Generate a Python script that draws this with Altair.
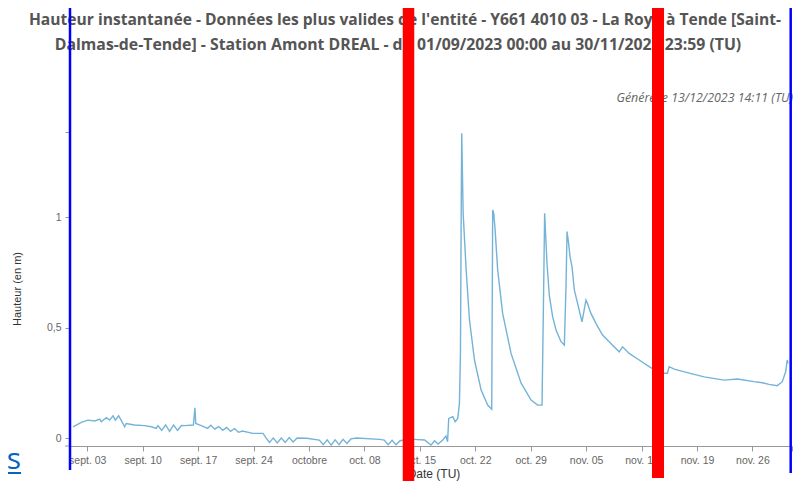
import altair as alt
import pandas as pd

# ---- data ----
days = [0.20, 1.25, 2.09, 2.94, 3.57, 3.77, 4.40, 4.83, 5.25, 5.54, 5.96, 6.38, 6.72, 6.92,
        7.98, 9.24, 10.08, 10.71, 10.92, 11.40, 11.90, 12.40, 12.90, 13.40, 13.90, 14.30,
        15.40, 15.60, 15.70, 16.40, 17.20, 17.60, 18.10, 18.60, 19.10, 19.60, 20.10, 20.60,
        21.10, 21.60, 22.90, 24.20, 24.60, 25.00, 25.50, 26.00, 26.50, 27.00, 27.50, 28.00,
        28.50, 29.70, 31.30, 31.80, 32.30, 32.80, 33.30, 33.80, 34.30, 34.80, 35.30, 36.00,
        38.90, 39.50, 40.00, 40.50, 41.00, 41.50, 42.20, 42.80, 43.30, 44.60, 45.40, 45.85,
        46.30, 46.90, 47.30, 47.50, 47.65, 48.16, 48.46, 48.79, 49.00, 49.13, 49.22, 49.29,
        49.47, 49.85, 50.27, 50.90, 51.74, 52.57, 53.08, 53.20, 53.33, 53.51, 53.83, 54.46,
        55.52, 56.79, 58.05, 58.88, 59.43, 59.63, 59.76, 60.06, 60.35, 60.77, 61.20, 61.83,
        62.25, 62.46, 62.59, 62.79, 62.97, 63.22, 63.51, 63.92, 64.48, 64.98, 65.18, 65.61,
        66.24, 67.07, 68.13, 69.18, 69.60, 70.44, 71.70, 72.96, 73.60, 74.64, 75.27, 75.49,
        76.12, 77.79, 79.90, 82.42, 84.10, 86.20, 87.25, 88.09, 89.14, 89.77, 90.20, 90.40,
        90.49]
heights = [0.051, 0.071, 0.081, 0.077, 0.086, 0.074, 0.092, 0.081, 0.101, 0.081, 0.101, 0.074,
           0.051, 0.066, 0.059, 0.056, 0.051, 0.044, 0.056, 0.035, 0.059, 0.030, 0.059, 0.035,
           0.057, 0.056, 0.059, 0.137, 0.066, 0.056, 0.044, 0.058, 0.040, 0.052, 0.035, 0.048,
           0.030, 0.043, 0.026, 0.032, 0.021, 0.021, 0.000, -0.020, 0.000, -0.022, 0.000,
           -0.020, 0.002, -0.018, 0.000, -0.001, -0.009, -0.030, -0.008, -0.032, -0.008,
           -0.030, -0.006, -0.025, -0.004, 0.000, -0.006, -0.009, -0.030, -0.010, -0.030,
           -0.012, -0.008, -0.006, -0.006, -0.009, -0.032, -0.012, -0.027, -0.009, 0.009,
           -0.017, 0.089, 0.097, 0.074, 0.089, 0.157, 0.383, 0.986, 1.379, 1.017, 0.760,
           0.534, 0.353, 0.217, 0.149, 0.130, 1.032, 1.017, 0.941, 0.760, 0.564, 0.383, 0.248,
           0.172, 0.149, 0.149, 0.655, 1.017, 0.790, 0.645, 0.549, 0.489, 0.436, 0.421, 0.685,
           0.934, 0.881, 0.820, 0.775, 0.670, 0.609, 0.526, 0.624, 0.609, 0.564, 0.519, 0.466,
           0.428, 0.390, 0.413, 0.383, 0.353, 0.323, 0.310, 0.293, 0.293, 0.323, 0.312, 0.296,
           0.277, 0.262, 0.267, 0.255, 0.250, 0.243, 0.237, 0.255, 0.300, 0.353, 0.338]

tick_days = [2, 9, 16, 23, 30, 37, 44, 51, 58, 65, 72, 79, 86, 91]
tick_labels = ["sept. 03", "sept. 10", "sept. 17", "sept. 24", "octobre", "oct. 08",
               "oct. 15", "oct. 22", "oct. 29", "nov. 05", "nov. 12", "nov. 19", "nov. 26", ""]
y_ticks = [0, 0.5, 1, 1.3846]

title_lines = [
    "Hauteur instantanée - Données les plus valides de l'entité - Y661 4010 03 - La Roya à Tende [Saint-",
    "Dalmas-de-Tende] - Station Amont DREAL - du 01/09/2023 00:00 au 30/11/2023 23:59 (TU)",
]
subtitle = "Généré le 13/12/2023 14:11 (TU)"
y_title = "Hauteur (en m)"
x_title = "Date (TU)"
link_text = "es"

W, H = 722, 314
LAB_FONT = "Liberation Sans"

df = pd.DataFrame({"day": days, "h": heights})

label_js = "[" + ",".join("'" + s + "'" for s in tick_labels) + "]"
day_js = "[" + ",".join(str(d) for d in tick_days) + "]"

line = alt.Chart(df).mark_line(color="#74b3d8", strokeWidth=1.4).encode(
    x=alt.X("day:Q", scale=alt.Scale(domain=[-0.18, 91.0], nice=False, zero=False),
            axis=alt.Axis(values=tick_days, title=None, grid=False,
                          labelExpr=label_js + "[indexof(" + day_js + ", datum.value)]",
                          labelFont=LAB_FONT, labelFontSize=10.5, labelColor="#666666",
                          tickColor="#999999", tickSize=5, labelPadding=4,
                          domainColor="#999999", labelFlush=False)),
    y=alt.Y("h:Q", scale=alt.Scale(domain=[-0.036, 1.3846], nice=False, zero=False),
            axis=alt.Axis(values=y_ticks, title=None, grid=False, domain=False,
                          labelExpr="datum.value > 1.2 ? '' : replace(toString(datum.value), '.', ',')",
                          labelFont=LAB_FONT, labelFontSize=10.5, labelColor="#666666",
                          tickColor="#999999", tickSize=5, labelPadding=4)),
)


def text_layer(txt, x, y, **kw):
    return alt.Chart(pd.DataFrame({"t": [txt]})).mark_text(**kw).encode(
        text="t:N", x=alt.value(x), y=alt.value(y))


def vrule(x, y1, y2, color, w):
    return alt.Chart(pd.DataFrame({"a": [0]})).mark_rule(color=color, strokeWidth=w).encode(
        x=alt.value(x), y=alt.value(y1), y2=alt.value(y2))


# axis-line stub to the left of the plot
stub = alt.Chart(pd.DataFrame({"a": [0]})).mark_rule(color="#999999", strokeWidth=1).encode(
    x=alt.value(-5), x2=alt.value(0), y=alt.value(H))

texts = [
    text_layer(title_lines[0], 335, -112, font="Open Sans", fontSize=15.6, fontWeight="bold",
               color="#555555", align="center", baseline="middle"),
    text_layer(title_lines[1], 328, -87, font="Open Sans", fontSize=15.8, fontWeight="bold",
               color="#555555", align="center", baseline="middle"),
    text_layer(subtitle, 723, -34, font="Open Sans", fontSize=12.4, fontStyle="italic",
               color="#666666", align="right", baseline="middle"),
    text_layer(y_title, -52, 157, font=LAB_FONT, fontSize=11, color="#333333", angle=270,
               align="center", baseline="middle"),
    text_layer(x_title, 364, 342, font=LAB_FONT, fontSize=12, color="#333333",
               align="center", baseline="middle"),
    text_layer(link_text, -49, 337, font="Open Sans", fontSize=30, color="#0563c1",
               align="right", baseline="alphabetic"),
]
underline = alt.Chart(pd.DataFrame({"a": [0]})).mark_rule(color="#0563c1", strokeWidth=2).encode(
    x=alt.value(-75), x2=alt.value(-49), y=alt.value(341))

overlays = [
    vrule(0, -132, 338, "#0000ff", 2.5),
    vrule(720.7, -132, 341, "#0000ff", 2.5),
    vrule(338.5, -132, 349, "#ff0000", 11.5),
    vrule(588, -132, 346, "#ff0000", 12),
]

chart = alt.layer(line, stub, *texts, underline, *overlays).properties(
    width=W, height=H,
    autosize=alt.AutoSizeParams(type="none"),
    padding={"left": 62, "top": 124, "right": 2, "bottom": 35},
).configure(background="white").configure_view(strokeWidth=0)

chart.save("out.html", embed_options={"renderer": "svg", "actions": False})
